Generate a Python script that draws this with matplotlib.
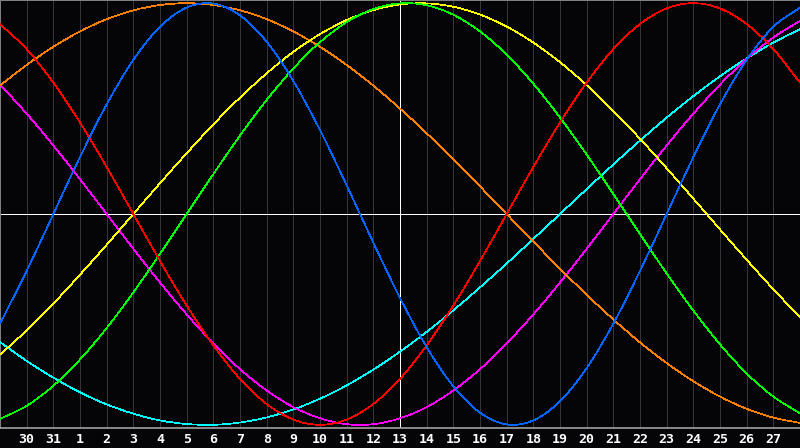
import numpy as np
import matplotlib
matplotlib.use('Agg')
import matplotlib.pyplot as plt
from matplotlib.path import Path
from matplotlib.patches import PathPatch

# day labels under the grid lines (index 1..29)
day_labels = ["30", "31", "1", "2", "3", "4", "5", "6", "7", "8", "9", "10", "11", "12",
              "13", "14", "15", "16", "17", "18", "19", "20", "21", "22", "23", "24", "25",
              "26", "27"]

# cycle values, one per day (index 0..30)
physical = [-0.520, -0.270, 0.000, 0.270, 0.520, 0.731, 0.888, 0.979, 0.998, 0.942, 0.817,
            0.631, 0.398, 0.136, -0.136, -0.398, -0.631, -0.817, -0.942, -0.998, -0.979,
            -0.888, -0.731, -0.520, -0.270, 0.000, 0.270, 0.520, 0.731, 0.888, 0.979]
emotional = [0.901, 0.782, 0.623, 0.434, 0.223, 0.000, -0.223, -0.434, -0.623, -0.782, -0.901,
             -0.975, -1.000, -0.975, -0.901, -0.782, -0.623, -0.434, -0.223, 0.000, 0.223,
             0.434, 0.623, 0.782, 0.901, 0.975, 1.000, 0.975, 0.901, 0.782, 0.623]
intellectual = [-0.972, -0.910, -0.815, -0.690, -0.541, -0.372, -0.189, 0.000, 0.189, 0.372,
                0.541, 0.690, 0.815, 0.910, 0.972, 0.999, 0.990, 0.945, 0.866, 0.756, 0.618,
                0.458, 0.282, 0.095, -0.095, -0.282, -0.458, -0.618, -0.756, -0.866, -0.945]
intuitive = [0.614, 0.476, 0.325, 0.165, 0.000, -0.165, -0.325, -0.476, -0.614, -0.736, -0.837,
             -0.916, -0.969, -0.997, -0.997, -0.969, -0.916, -0.837, -0.736, -0.614, -0.476,
             -0.325, -0.165, 0.000, 0.165, 0.325, 0.476, 0.614, 0.736, 0.837, 0.916]
aesthetic = [-0.667, -0.552, -0.425, -0.288, -0.146, 0.000, 0.146, 0.288, 0.425, 0.552, 0.667,
             0.769, 0.853, 0.920, 0.967, 0.994, 0.999, 0.983, 0.946, 0.889, 0.813, 0.720,
             0.611, 0.489, 0.357, 0.217, 0.073, -0.073, -0.217, -0.357, -0.489]
awareness = [0.609, 0.707, 0.793, 0.866, 0.924, 0.966, 0.991, 1.000, 0.991, 0.966, 0.924,
             0.866, 0.793, 0.707, 0.609, 0.500, 0.383, 0.259, 0.131, 0.000, -0.131, -0.259,
             -0.383, -0.500, -0.609, -0.707, -0.793, -0.866, -0.924, -0.966, -0.991]
spiritual = [-0.607, -0.697, -0.776, -0.846, -0.903, -0.947, -0.979, -0.996, -1.000, -0.989,
             -0.965, -0.927, -0.876, -0.813, -0.738, -0.653, -0.559, -0.457, -0.348, -0.235,
             -0.118, 0.000, 0.118, 0.235, 0.348, 0.457, 0.559, 0.653, 0.738, 0.813, 0.876]

today_index = 15

series = [
    (spiritual, '#00ffff'),
    (intuitive, '#ff00ff'),
    (awareness, '#ff8000'),
    (aesthetic, '#ffff00'),
    (intellectual, '#00ff00'),
    (emotional, '#ff0000'),
    (physical, '#0066ff'),
]


def smooth_path(xs, ys):
    # catmull-rom style bezier through the daily points (drawing only)
    xs = np.asarray(xs, float)
    ys = np.asarray(ys, float)
    verts = [(xs[0], ys[0])]
    codes = [Path.MOVETO]
    n = len(xs)
    for i in range(n - 1):
        x0, y0 = (xs[i - 1], ys[i - 1]) if i > 0 else (2 * xs[0] - xs[1], 2 * ys[0] - ys[1])
        x3, y3 = (xs[i + 2], ys[i + 2]) if i + 2 < n else (2 * xs[-1] - xs[-2], 2 * ys[-1] - ys[-2])
        c1 = (xs[i] + (xs[i + 1] - x0) / 6, ys[i] + (ys[i + 1] - y0) / 6)
        c2 = (xs[i + 1] - (x3 - xs[i]) / 6, ys[i + 1] - (y3 - ys[i]) / 6)
        verts += [c1, c2, (xs[i + 1], ys[i + 1])]
        codes += [Path.CURVE4] * 3
    return Path(verts, codes)


fig = plt.figure(figsize=(8, 4.48), dpi=100, facecolor='#050508')
ax = fig.add_axes([0, 20 / 448, 1, 428 / 448])
ax.set_facecolor('#050508')

days = np.arange(len(physical))
ax.set_xlim(0, len(physical) - 1)
ax.set_ylim(-1.015, 1.015)

# vertical day grid
for i in range(1, len(day_labels) + 1):
    ax.axvline(i, color='#36363a', linewidth=0.72, antialiased=False, zorder=1)

ax.axhline(0, color='white', linewidth=0.72, antialiased=False, zorder=2)
ax.axvline(today_index, color='white', linewidth=0.72, antialiased=False, zorder=2)

for values, color in series:
    ax.add_patch(PathPatch(smooth_path(days, values), facecolor='none', edgecolor=color,
                           linewidth=0.5, antialiased=False, zorder=3))

ax.set_xticks([])
ax.set_yticks([])
for side in ['left', 'top', 'right']:
    ax.spines[side].set_color('#808080')
    ax.spines[side].set_linewidth(0.72)
ax.spines['bottom'].set_color('#a0a0a0')
ax.spines['bottom'].set_linewidth(1.2)

for i, lab in enumerate(day_labels):
    ax.text(i + 1, -0.027, lab, transform=ax.get_xaxis_transform(), ha='center', va='center',
            color='white', fontsize=9.5, fontweight='bold', family='DejaVu Sans Mono')

fig.savefig('out.png', dpi=100, facecolor=fig.get_facecolor())
